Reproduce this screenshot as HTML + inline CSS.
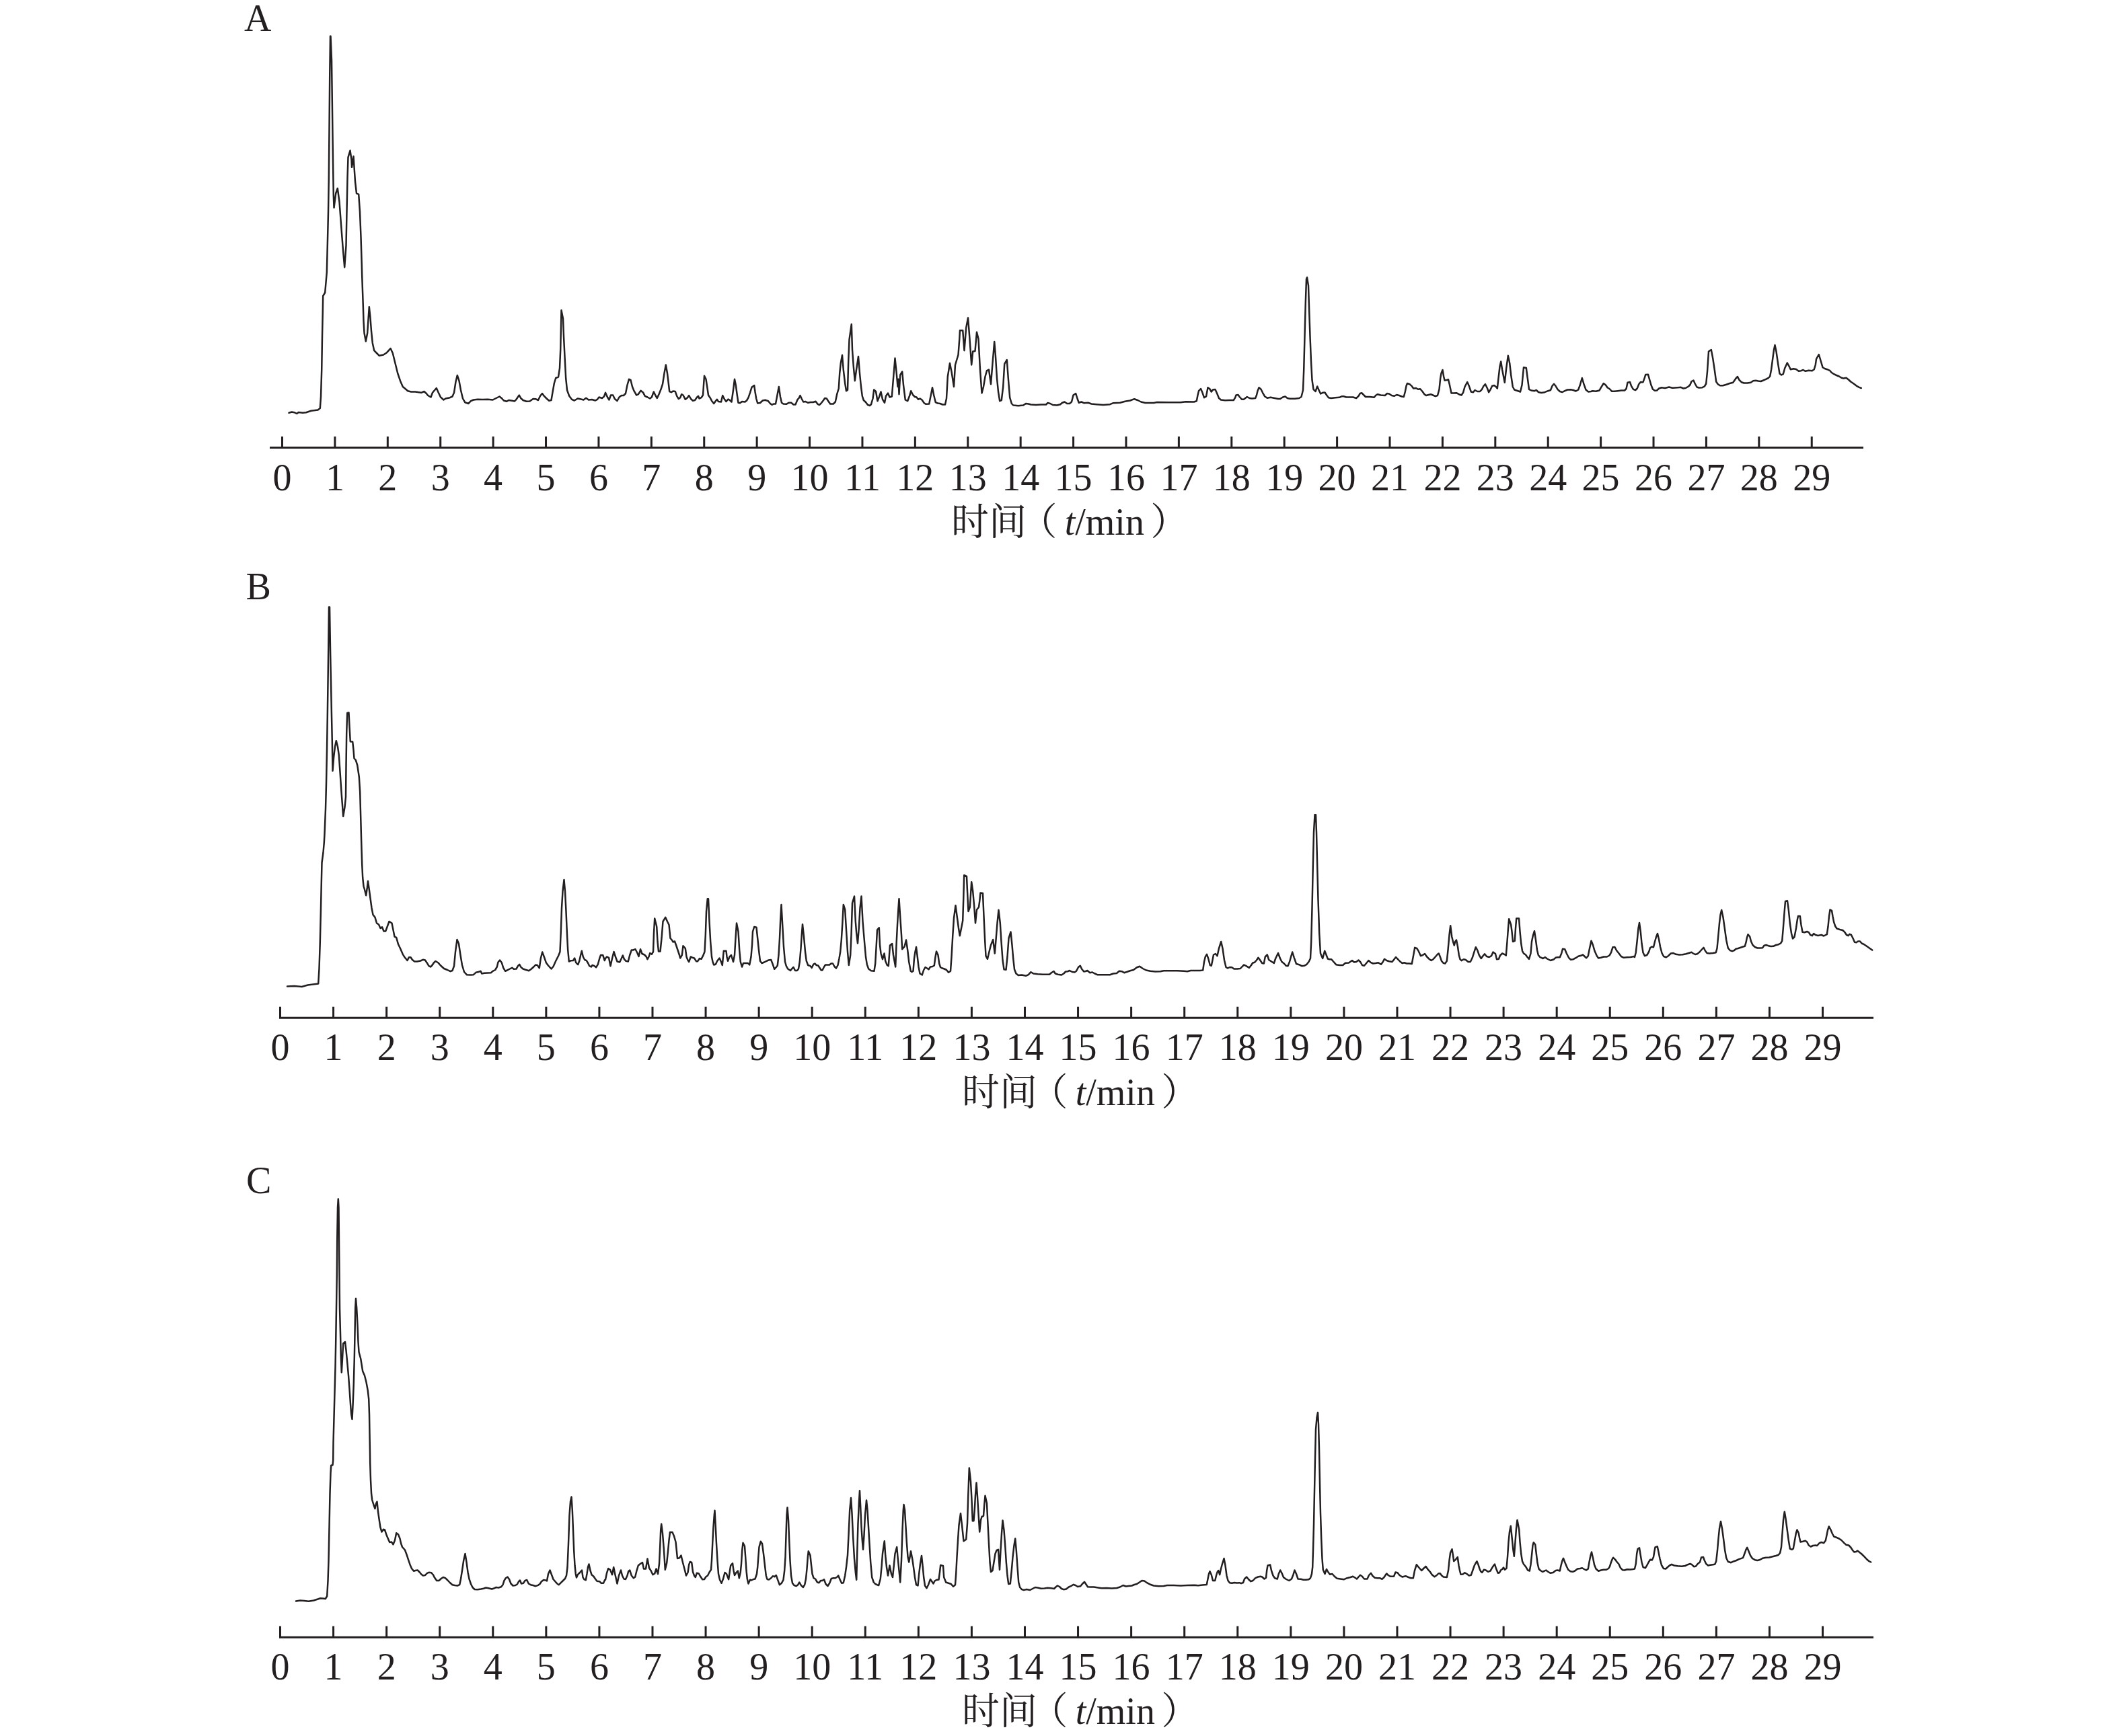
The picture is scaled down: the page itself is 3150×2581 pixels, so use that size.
<!DOCTYPE html>
<html lang="zh"><head><meta charset="utf-8"><title>chromatograms</title>
<style>
html,body{margin:0;padding:0;background:#fff;}
body{width:3150px;height:2581px;overflow:hidden;}
svg{display:block;}
text{font-family:"Liberation Serif","Noto Serif CJK SC",serif;font-size:56px;fill:#231f20;}
.ax{stroke:#231f20;stroke-width:3;fill:none;stroke-linecap:butt;}
.cv{stroke:#231f20;stroke-width:2.5;fill:none;stroke-linejoin:round;stroke-linecap:round;}
.t{text-anchor:middle;}
</style></head><body>
<svg width="3150" height="2581" viewBox="0 0 3150 2581">
<rect width="3150" height="2581" fill="#fff"/>
<g id="panelA">
<text x="363" y="46">A</text>
<path class="ax" d="M401 665.5H2770M419.5 665.5V649.0M497.9 665.5V649.0M576.31 665.5V649.0M654.72 665.5V649.0M733.12 665.5V649.0M811.52 665.5V649.0M889.93 665.5V649.0M968.34 665.5V649.0M1046.74 665.5V649.0M1125.14 665.5V649.0M1203.55 665.5V649.0M1281.95 665.5V649.0M1360.36 665.5V649.0M1438.76 665.5V649.0M1517.17 665.5V649.0M1595.58 665.5V649.0M1673.98 665.5V649.0M1752.38 665.5V649.0M1830.79 665.5V649.0M1909.19 665.5V649.0M1987.6 665.5V649.0M2066.01 665.5V649.0M2144.41 665.5V649.0M2222.82 665.5V649.0M2301.22 665.5V649.0M2379.62 665.5V649.0M2458.03 665.5V649.0M2536.43 665.5V649.0M2614.84 665.5V649.0M2693.24 665.5V649.0"/>
<text class="t" x="419.5" y="728.75">0</text><text class="t" x="497.9" y="728.75">1</text><text class="t" x="576.31" y="728.75">2</text><text class="t" x="654.72" y="728.75">3</text><text class="t" x="733.12" y="728.75">4</text><text class="t" x="811.52" y="728.75">5</text><text class="t" x="889.93" y="728.75">6</text><text class="t" x="968.34" y="728.75">7</text><text class="t" x="1046.74" y="728.75">8</text><text class="t" x="1125.14" y="728.75">9</text><text class="t" x="1203.55" y="728.75">10</text><text class="t" x="1281.95" y="728.75">11</text><text class="t" x="1360.36" y="728.75">12</text><text class="t" x="1438.76" y="728.75">13</text><text class="t" x="1517.17" y="728.75">14</text><text class="t" x="1595.58" y="728.75">15</text><text class="t" x="1673.98" y="728.75">16</text><text class="t" x="1752.38" y="728.75">17</text><text class="t" x="1830.79" y="728.75">18</text><text class="t" x="1909.19" y="728.75">19</text><text class="t" x="1987.6" y="728.75">20</text><text class="t" x="2066.01" y="728.75">21</text><text class="t" x="2144.41" y="728.75">22</text><text class="t" x="2222.82" y="728.75">23</text><text class="t" x="2301.22" y="728.75">24</text><text class="t" x="2379.62" y="728.75">25</text><text class="t" x="2458.03" y="728.75">26</text><text class="t" x="2536.43" y="728.75">27</text><text class="t" x="2614.84" y="728.75">28</text><text class="t" x="2693.24" y="728.75">29</text>
<text y="795.0"><tspan x="1413.9">时间</tspan><tspan x="1515.5">（</tspan><tspan x="1582.7" font-style="italic">t</tspan>/min<tspan x="1710.2">）</tspan></text>
<polyline class="cv" points="429.5,613.8 433.8,612.5 437.5,613.2 441.2,615.0 443.8,613.0 450.0,613.8 455.0,613.2 462.5,610.8 472.5,609.5 475.8,607.0 477.0,590.0 478.2,550.0 479.0,500.0 479.8,462.5 480.2,440.0 483.2,435.0 484.5,420.0 485.8,405.0 486.8,365.0 488.0,315.0 488.8,265.0 489.5,190.0 490.2,115.0 491.0,53.8 491.5,53.8 493.0,90.0 494.0,165.0 495.0,240.0 495.8,290.0 496.5,308.8 499.2,287.5 501.8,280.0 504.5,300.0 507.5,340.0 510.0,372.5 512.2,397.5 514.5,365.0 515.5,315.0 516.5,265.0 517.5,233.8 520.5,223.8 522.5,237.5 523.0,248.8 525.5,232.5 526.8,252.5 528.0,270.0 530.0,287.5 533.2,288.8 535.0,315.0 536.5,352.5 537.8,395.0 538.2,410.0 539.0,432.5 539.8,455.0 540.5,477.5 541.5,495.0 543.8,507.5 546.2,495.0 547.5,475.0 548.8,456.2 550.5,472.5 552.0,492.5 553.8,510.0 556.2,521.2 560.0,525.0 563.8,528.8 570.0,527.5 575.0,524.2 578.0,520.8 580.5,518.0 583.8,525.0 587.5,540.0 591.2,555.0 595.0,566.2 598.8,575.0 602.5,578.0 606.2,581.2 611.2,582.5 617.5,582.5 622.5,583.2 626.2,583.8 630.5,582.0 633.8,585.0 636.2,588.0 640.5,590.5 643.0,583.8 646.2,580.0 648.8,577.0 651.2,582.5 655.0,590.5 659.5,594.5 662.5,592.5 668.8,591.2 672.5,589.5 675.0,583.8 677.5,567.5 679.8,558.0 682.5,566.2 685.0,580.0 688.0,592.5 691.2,598.2 696.2,600.0 700.0,596.2 703.8,594.5 710.0,593.8 717.5,594.0 725.0,593.8 732.5,594.5 737.5,592.0 742.5,589.5 746.2,592.5 748.8,595.5 753.0,596.8 756.2,595.0 761.2,595.8 765.0,596.5 767.5,593.8 771.8,587.5 774.2,592.0 777.5,595.0 782.5,596.8 787.5,596.5 792.5,593.0 796.2,593.2 800.0,595.0 803.0,588.8 806.0,585.0 809.2,589.2 812.5,592.5 816.2,595.8 819.5,595.0 821.2,585.0 823.8,570.0 826.2,562.0 830.0,560.5 832.0,547.5 833.2,520.0 834.5,461.2 837.0,473.8 838.0,500.0 839.5,530.0 841.2,562.5 843.0,580.0 846.2,588.8 850.0,593.8 853.8,595.5 858.8,592.5 862.5,593.2 867.5,594.5 871.2,591.8 875.0,594.5 880.0,594.0 885.0,595.5 888.0,593.8 890.5,590.5 895.0,592.0 898.0,589.5 900.0,583.8 903.0,590.5 905.5,594.5 908.0,587.5 911.2,587.5 913.8,593.0 917.5,596.0 920.5,590.5 923.8,588.0 927.0,588.0 930.0,585.0 932.5,572.5 935.0,563.8 937.5,565.0 940.0,575.0 942.5,581.2 946.2,587.5 948.8,586.2 952.5,580.8 956.2,583.8 958.8,588.8 962.5,590.5 966.2,592.5 968.8,590.5 971.8,582.5 974.2,587.5 976.8,592.0 979.5,586.2 982.5,578.8 985.0,571.2 987.5,555.0 989.8,542.5 992.0,555.0 993.8,570.0 995.2,582.0 998.0,583.2 1000.5,581.5 1003.8,582.0 1006.2,588.8 1008.8,593.0 1011.2,591.2 1013.2,586.2 1015.5,587.5 1018.8,593.8 1022.0,591.2 1024.2,588.0 1027.0,593.0 1030.0,595.8 1033.0,595.0 1036.2,590.5 1038.0,588.8 1039.5,592.5 1042.5,591.2 1045.0,587.5 1046.0,572.5 1047.0,558.8 1049.5,563.8 1051.2,575.0 1053.0,587.5 1055.5,591.2 1058.2,596.2 1061.2,600.0 1063.8,596.2 1065.8,593.8 1068.0,597.0 1072.0,597.5 1074.2,588.0 1076.8,593.2 1079.5,597.0 1082.5,593.5 1085.0,595.0 1087.5,597.5 1090.0,580.0 1092.0,563.8 1093.8,572.5 1095.8,587.5 1097.5,598.8 1100.0,599.2 1103.0,597.0 1107.5,597.5 1110.0,595.5 1112.5,591.2 1115.0,583.8 1117.5,575.8 1121.2,573.0 1122.5,582.5 1124.2,592.5 1126.2,599.5 1130.0,599.0 1133.8,595.5 1137.5,594.8 1142.0,596.2 1145.0,600.0 1147.5,601.8 1150.0,600.5 1153.0,600.5 1155.0,590.0 1157.8,575.0 1160.0,590.0 1162.0,598.8 1164.5,600.5 1168.8,600.8 1172.5,598.8 1176.2,598.8 1179.5,601.5 1182.5,601.5 1185.5,594.2 1187.5,592.0 1189.5,588.0 1191.8,593.0 1194.2,597.5 1197.5,597.0 1201.2,598.8 1205.0,598.0 1208.8,598.0 1212.5,596.8 1215.5,600.8 1218.2,602.0 1221.2,598.8 1223.8,595.5 1226.2,592.0 1228.8,592.5 1231.2,596.2 1234.2,600.5 1238.8,600.5 1241.8,597.5 1244.2,586.2 1246.8,577.5 1248.2,555.0 1249.8,540.0 1252.0,528.0 1253.8,550.0 1256.2,570.0 1258.0,581.2 1260.0,580.0 1261.2,537.5 1262.5,505.0 1265.8,482.0 1267.0,520.0 1268.8,545.0 1270.8,566.2 1273.0,550.0 1276.0,530.0 1278.0,555.0 1280.0,575.0 1281.8,588.8 1283.8,595.0 1287.0,598.0 1290.0,602.0 1293.0,603.0 1295.0,601.2 1297.5,592.5 1299.2,579.5 1302.0,582.0 1304.5,596.2 1307.0,590.0 1309.5,582.5 1312.0,593.8 1315.0,598.8 1317.0,588.8 1320.0,584.5 1322.5,590.5 1325.8,589.5 1328.0,562.5 1330.5,532.5 1332.5,552.5 1334.5,575.0 1335.5,563.8 1336.5,586.2 1338.2,557.5 1341.2,552.5 1343.0,572.5 1345.8,594.5 1349.2,596.2 1352.0,588.8 1354.2,581.2 1357.0,587.0 1360.0,590.0 1362.5,590.5 1365.0,593.8 1367.5,592.5 1370.5,594.5 1373.8,599.2 1376.2,600.8 1381.2,600.5 1383.8,587.5 1386.0,576.2 1388.2,587.5 1390.8,598.2 1393.8,599.5 1397.5,600.0 1401.2,601.5 1405.0,601.5 1407.0,592.5 1408.8,560.0 1412.0,540.0 1414.5,552.5 1418.0,575.0 1420.0,542.5 1424.5,527.5 1426.2,505.0 1427.0,491.2 1431.2,491.2 1433.5,521.2 1436.2,487.5 1439.0,472.5 1441.2,500.0 1444.2,542.5 1446.2,522.5 1449.5,522.0 1452.0,493.8 1454.5,503.8 1457.0,550.0 1459.5,584.5 1462.0,575.0 1464.5,560.0 1467.0,551.2 1470.0,549.5 1473.0,571.2 1475.5,540.0 1478.2,508.0 1480.0,530.0 1482.0,562.5 1484.0,582.5 1486.2,596.2 1488.8,595.0 1491.2,575.0 1493.2,541.2 1496.8,535.0 1498.8,562.5 1501.2,591.2 1503.8,600.0 1506.2,602.5 1513.8,603.2 1521.2,602.5 1525.0,600.0 1528.8,600.5 1532.5,601.5 1540.0,602.0 1547.5,601.5 1555.0,601.5 1557.5,599.0 1561.2,600.0 1565.0,602.0 1571.2,602.5 1576.2,601.2 1578.8,599.0 1582.5,597.5 1586.2,600.0 1590.0,600.0 1593.0,597.5 1595.5,587.5 1599.2,585.0 1601.5,592.5 1603.8,598.8 1607.5,597.5 1611.2,599.2 1617.5,598.8 1622.5,600.5 1630.0,601.2 1640.0,602.0 1650.0,601.2 1655.0,599.2 1665.0,598.8 1672.5,596.8 1680.0,595.5 1686.2,593.2 1691.2,595.0 1696.2,597.5 1702.5,599.0 1715.0,599.0 1720.0,598.0 1737.5,598.2 1755.0,598.2 1762.5,597.2 1775.0,597.5 1778.8,596.2 1780.5,587.5 1782.0,581.2 1785.0,578.0 1787.5,583.8 1790.0,591.2 1793.0,589.5 1795.5,576.2 1798.2,578.0 1800.8,582.5 1803.2,579.2 1806.5,579.0 1809.2,585.0 1812.0,592.0 1815.0,594.5 1821.2,595.2 1827.5,595.0 1833.8,595.0 1836.2,591.2 1837.5,587.5 1840.5,587.0 1843.0,590.5 1846.2,593.8 1848.8,593.8 1851.2,592.0 1853.8,590.0 1857.5,592.0 1861.2,592.5 1866.2,592.0 1868.0,587.5 1869.5,581.2 1871.5,576.2 1874.5,578.8 1877.0,583.8 1880.0,589.2 1883.8,591.8 1888.8,590.8 1895.0,592.0 1900.0,593.0 1903.0,593.0 1907.0,590.5 1910.5,589.5 1913.8,592.0 1917.5,592.8 1925.0,592.8 1931.2,592.0 1934.5,590.0 1937.0,580.0 1938.2,550.0 1939.5,500.0 1940.8,450.0 1942.0,415.0 1943.0,412.5 1945.0,425.0 1946.2,462.5 1947.5,500.0 1949.0,537.5 1950.5,565.0 1952.5,578.8 1955.5,582.0 1958.2,574.5 1960.8,580.5 1963.2,585.5 1966.2,583.8 1969.5,583.5 1972.5,588.0 1975.0,591.2 1978.8,592.0 1985.0,591.2 1991.2,590.8 1995.0,589.2 1997.5,589.2 2001.2,590.5 2006.2,590.5 2011.2,590.5 2016.2,592.0 2019.5,588.8 2021.8,585.0 2024.2,584.2 2027.0,587.0 2030.0,590.0 2036.2,590.0 2042.5,590.8 2045.5,587.5 2048.0,586.2 2052.5,587.5 2058.8,588.0 2062.0,585.0 2065.0,585.5 2068.8,588.0 2072.5,588.8 2076.2,587.0 2080.0,588.0 2083.8,589.5 2086.8,590.0 2088.8,582.5 2090.5,573.8 2092.0,570.0 2095.5,571.2 2098.8,574.2 2101.2,577.5 2105.0,577.0 2108.0,578.8 2111.2,578.2 2114.5,582.0 2117.5,586.2 2120.0,588.0 2123.8,587.0 2127.0,586.2 2130.0,587.5 2133.8,589.2 2137.0,588.0 2139.5,578.8 2141.2,562.5 2142.5,555.0 2144.5,550.0 2146.2,560.0 2147.5,565.5 2150.8,565.0 2153.0,564.2 2155.0,572.5 2157.5,584.5 2161.2,584.5 2165.0,584.2 2168.8,586.2 2172.5,587.5 2175.0,583.8 2177.5,575.0 2181.2,568.0 2183.8,573.8 2186.8,582.5 2190.0,583.2 2192.5,580.0 2196.2,582.0 2200.0,582.0 2203.0,578.8 2205.5,573.8 2208.0,571.2 2210.8,577.0 2213.2,583.2 2215.8,578.8 2218.2,573.8 2221.2,573.0 2223.8,575.0 2225.8,577.5 2227.5,562.5 2229.5,545.0 2231.2,537.5 2233.2,550.0 2236.8,568.8 2239.2,547.5 2241.8,528.8 2244.2,540.0 2246.2,557.5 2248.8,575.0 2251.2,579.5 2255.0,580.8 2260.0,582.5 2262.5,572.5 2265.0,546.2 2268.8,547.0 2270.5,560.0 2273.0,578.8 2276.2,580.5 2281.2,581.2 2283.8,580.0 2287.0,583.0 2291.2,584.0 2296.2,583.2 2301.2,581.2 2305.0,580.0 2307.5,573.8 2310.0,570.8 2312.5,573.8 2315.5,578.8 2318.8,582.0 2322.5,583.0 2326.2,581.2 2330.0,579.5 2335.0,579.2 2338.8,580.0 2342.5,581.5 2346.2,579.5 2348.8,572.5 2351.8,562.0 2354.5,571.2 2357.5,579.5 2361.2,582.5 2365.0,582.0 2367.5,581.2 2372.5,581.8 2377.5,580.5 2380.0,576.2 2383.8,570.0 2387.0,572.5 2389.5,576.2 2392.5,578.0 2396.2,581.8 2400.0,581.8 2405.0,581.2 2410.0,580.5 2415.0,580.5 2417.5,578.0 2419.5,568.8 2423.0,568.0 2425.0,573.8 2428.0,578.8 2431.2,580.0 2433.8,577.5 2436.2,571.2 2438.8,568.0 2442.5,568.2 2445.0,561.2 2446.2,557.0 2450.0,556.8 2452.0,563.8 2454.5,572.5 2457.0,578.8 2460.0,580.8 2463.0,580.5 2466.2,577.5 2470.0,576.2 2475.0,577.0 2481.2,575.5 2486.2,576.8 2493.8,576.2 2498.8,575.8 2502.5,577.5 2506.2,576.8 2510.0,574.5 2512.5,572.0 2514.5,567.0 2517.5,565.5 2519.5,570.0 2522.5,575.5 2525.5,576.5 2530.5,576.2 2533.8,574.5 2536.2,570.5 2538.0,552.5 2540.0,522.5 2543.8,520.0 2546.2,532.5 2548.8,550.0 2551.2,567.5 2553.8,571.2 2557.0,573.2 2561.2,573.2 2566.2,571.8 2571.2,570.0 2576.2,568.8 2578.8,565.0 2580.5,562.5 2583.0,560.0 2585.5,565.0 2588.8,568.2 2592.5,569.5 2597.5,569.5 2602.5,568.8 2606.2,566.2 2610.0,565.8 2613.8,566.5 2617.5,567.0 2621.2,565.5 2625.0,563.8 2628.8,562.0 2631.2,559.5 2633.0,550.0 2635.0,535.0 2637.0,520.0 2638.5,513.0 2640.5,522.5 2643.0,540.0 2645.5,555.5 2648.2,557.5 2650.8,556.2 2653.2,547.5 2656.8,539.5 2659.2,543.8 2661.8,549.2 2666.2,548.2 2670.0,549.0 2673.8,551.8 2677.5,551.2 2680.5,550.0 2683.8,551.8 2688.8,550.8 2693.8,551.2 2696.8,549.2 2698.8,542.5 2700.0,533.8 2703.8,527.0 2706.2,535.0 2709.5,546.2 2712.5,548.0 2716.2,549.2 2720.0,550.8 2722.5,553.8 2726.2,556.2 2730.0,558.0 2733.8,559.5 2737.5,561.8 2740.5,562.5 2744.5,561.8 2748.0,564.5 2751.2,567.5 2755.0,570.0 2760.0,573.8 2763.8,575.8 2766.8,577.0"/>
</g>
<g id="panelB">
<text x="365.5" y="891">B</text>
<path class="ax" d="M415 1513.25H2785M416.5 1513.25V1496.75M495.57 1513.25V1496.75M574.64 1513.25V1496.75M653.71 1513.25V1496.75M732.78 1513.25V1496.75M811.85 1513.25V1496.75M890.92 1513.25V1496.75M969.99 1513.25V1496.75M1049.06 1513.25V1496.75M1128.13 1513.25V1496.75M1207.2 1513.25V1496.75M1286.27 1513.25V1496.75M1365.34 1513.25V1496.75M1444.41 1513.25V1496.75M1523.48 1513.25V1496.75M1602.55 1513.25V1496.75M1681.62 1513.25V1496.75M1760.69 1513.25V1496.75M1839.76 1513.25V1496.75M1918.83 1513.25V1496.75M1997.9 1513.25V1496.75M2076.97 1513.25V1496.75M2156.04 1513.25V1496.75M2235.11 1513.25V1496.75M2314.18 1513.25V1496.75M2393.25 1513.25V1496.75M2472.32 1513.25V1496.75M2551.39 1513.25V1496.75M2630.46 1513.25V1496.75M2709.53 1513.25V1496.75"/>
<text class="t" x="416.5" y="1576.0">0</text><text class="t" x="495.57" y="1576.0">1</text><text class="t" x="574.64" y="1576.0">2</text><text class="t" x="653.71" y="1576.0">3</text><text class="t" x="732.78" y="1576.0">4</text><text class="t" x="811.85" y="1576.0">5</text><text class="t" x="890.92" y="1576.0">6</text><text class="t" x="969.99" y="1576.0">7</text><text class="t" x="1049.06" y="1576.0">8</text><text class="t" x="1128.13" y="1576.0">9</text><text class="t" x="1207.2" y="1576.0">10</text><text class="t" x="1286.27" y="1576.0">11</text><text class="t" x="1365.34" y="1576.0">12</text><text class="t" x="1444.41" y="1576.0">13</text><text class="t" x="1523.48" y="1576.0">14</text><text class="t" x="1602.55" y="1576.0">15</text><text class="t" x="1681.62" y="1576.0">16</text><text class="t" x="1760.69" y="1576.0">17</text><text class="t" x="1839.76" y="1576.0">18</text><text class="t" x="1918.83" y="1576.0">19</text><text class="t" x="1997.9" y="1576.0">20</text><text class="t" x="2076.97" y="1576.0">21</text><text class="t" x="2156.04" y="1576.0">22</text><text class="t" x="2235.11" y="1576.0">23</text><text class="t" x="2314.18" y="1576.0">24</text><text class="t" x="2393.25" y="1576.0">25</text><text class="t" x="2472.32" y="1576.0">26</text><text class="t" x="2551.39" y="1576.0">27</text><text class="t" x="2630.46" y="1576.0">28</text><text class="t" x="2709.53" y="1576.0">29</text>
<text y="1643.15"><tspan x="1429.9">时间</tspan><tspan x="1531.5">（</tspan><tspan x="1598.7" font-style="italic">t</tspan>/min<tspan x="1726.2">）</tspan></text>
<polyline class="cv" points="427.0,1466.5 437.5,1466.0 448.8,1467.0 457.5,1464.5 467.5,1463.2 473.2,1462.5 474.5,1440.0 475.8,1400.0 477.0,1350.0 477.8,1312.5 478.5,1282.5 480.5,1267.5 481.8,1252.5 482.5,1240.0 484.0,1202.5 485.0,1165.0 486.0,1115.0 486.8,1065.0 487.5,1015.0 488.2,965.0 489.0,902.5 490.0,902.5 491.0,965.0 492.0,1015.0 493.0,1065.0 493.8,1102.5 494.5,1146.2 496.2,1125.0 498.0,1110.0 499.8,1101.2 502.0,1110.0 503.8,1122.5 505.5,1147.5 507.5,1177.5 509.0,1197.5 510.2,1213.8 512.5,1200.0 514.0,1185.0 514.5,1140.0 515.2,1090.0 516.2,1060.0 518.5,1059.5 519.5,1080.0 520.8,1102.5 524.2,1103.0 525.5,1115.0 526.5,1127.5 528.8,1130.0 531.2,1137.5 533.8,1155.0 535.2,1177.5 536.2,1215.0 537.0,1245.0 537.5,1262.5 538.2,1285.0 539.2,1305.0 540.5,1317.5 542.0,1322.5 544.2,1331.2 545.8,1320.0 547.0,1310.0 548.8,1322.5 550.8,1337.5 552.5,1350.0 554.5,1360.0 557.5,1363.8 560.0,1372.5 563.0,1374.5 565.5,1380.0 568.0,1378.2 570.5,1384.5 573.2,1384.5 575.8,1377.5 578.5,1370.0 582.5,1372.5 584.5,1382.5 586.5,1392.5 589.2,1393.8 592.0,1403.8 595.0,1410.0 598.8,1418.8 602.0,1423.8 605.5,1428.0 608.0,1423.2 610.5,1423.2 613.0,1427.0 616.2,1429.5 620.0,1429.5 625.0,1428.5 628.8,1426.8 632.0,1427.5 634.5,1431.2 637.5,1436.2 640.0,1437.5 642.5,1435.0 645.0,1431.2 647.5,1429.0 651.2,1431.2 655.0,1435.5 660.0,1440.0 665.0,1442.0 669.5,1444.2 672.5,1443.0 675.0,1436.2 677.0,1415.0 679.5,1397.0 682.0,1403.0 684.5,1420.0 687.0,1435.0 690.0,1445.0 693.8,1449.2 698.8,1449.5 703.8,1449.2 707.5,1445.8 711.2,1445.0 714.5,1443.8 716.2,1447.5 720.0,1446.8 725.0,1446.5 730.0,1446.2 732.5,1443.8 736.2,1442.0 738.8,1437.5 740.5,1430.5 743.0,1427.5 745.8,1431.2 748.2,1438.8 751.2,1443.8 755.0,1442.0 758.8,1440.0 761.2,1438.8 763.8,1440.8 767.5,1440.5 770.0,1436.2 772.2,1433.8 774.5,1438.0 777.5,1440.5 781.2,1441.8 786.2,1443.2 790.0,1440.5 793.8,1437.0 796.2,1434.5 798.8,1435.0 801.8,1439.2 803.8,1425.0 806.2,1415.5 808.8,1422.5 811.8,1431.2 815.0,1435.5 819.5,1440.5 822.5,1437.0 826.2,1428.8 830.0,1421.2 832.5,1415.0 833.8,1385.0 835.0,1350.0 836.5,1325.0 838.5,1308.0 840.0,1325.0 841.5,1355.0 843.0,1390.0 844.2,1412.5 845.8,1429.5 848.8,1428.2 852.0,1428.0 854.2,1424.5 856.2,1431.2 859.2,1434.2 861.2,1428.8 863.2,1420.0 864.8,1413.8 866.8,1422.5 869.2,1427.0 871.8,1428.2 874.2,1432.0 876.2,1436.2 878.8,1437.5 880.5,1435.0 883.8,1436.2 886.2,1438.2 888.8,1433.8 891.2,1425.0 893.0,1420.0 896.2,1420.0 898.8,1428.0 900.0,1425.0 902.0,1422.5 905.0,1423.8 907.5,1436.2 910.0,1425.0 912.5,1415.0 915.0,1422.5 917.5,1429.5 921.2,1430.5 923.8,1425.0 925.8,1420.5 928.0,1426.2 930.5,1428.8 933.8,1429.5 936.2,1420.0 938.8,1412.5 941.2,1412.5 944.5,1411.2 947.5,1417.0 949.5,1422.0 952.0,1411.2 954.5,1418.0 958.0,1419.5 960.5,1422.0 962.5,1426.2 964.5,1422.5 966.2,1417.0 968.8,1418.8 971.0,1415.0 972.0,1387.5 973.2,1365.5 976.2,1377.5 977.5,1400.0 979.0,1414.5 981.5,1414.5 983.5,1395.0 985.5,1370.0 989.2,1363.8 992.0,1370.0 994.5,1375.0 996.5,1395.0 998.8,1397.5 1000.5,1400.5 1003.0,1399.5 1005.0,1405.0 1007.5,1412.5 1010.0,1420.0 1011.2,1424.5 1013.8,1420.0 1015.5,1406.2 1018.8,1410.0 1020.5,1422.5 1022.5,1427.5 1024.2,1430.0 1026.8,1422.5 1029.5,1423.8 1032.0,1424.5 1035.0,1429.2 1037.0,1429.2 1040.0,1425.0 1042.5,1425.8 1045.0,1421.2 1047.5,1415.0 1048.8,1390.0 1050.0,1355.0 1051.8,1336.2 1053.0,1336.2 1054.5,1370.0 1056.2,1400.0 1058.0,1422.5 1059.5,1430.0 1061.2,1434.5 1063.8,1433.8 1066.2,1428.8 1069.5,1424.5 1072.0,1430.0 1073.8,1435.0 1075.8,1413.8 1079.5,1413.8 1080.5,1422.5 1082.0,1428.8 1084.5,1422.5 1087.0,1420.0 1090.0,1430.0 1092.0,1420.0 1093.2,1400.0 1095.0,1372.5 1097.5,1385.0 1099.2,1412.5 1100.8,1430.0 1103.0,1437.5 1105.0,1432.0 1108.8,1432.0 1111.8,1432.0 1114.2,1434.5 1116.5,1422.5 1118.0,1405.0 1119.0,1385.0 1121.2,1378.0 1124.5,1378.8 1126.2,1395.0 1128.0,1412.5 1130.0,1428.8 1132.5,1432.0 1136.2,1430.5 1139.5,1428.8 1142.5,1427.5 1146.2,1427.0 1148.8,1433.8 1151.2,1440.8 1153.8,1438.0 1155.8,1435.5 1157.5,1420.0 1159.0,1395.0 1160.2,1367.5 1161.5,1345.0 1163.2,1375.0 1165.0,1407.5 1167.0,1430.0 1168.8,1436.2 1171.2,1440.5 1175.0,1443.0 1177.5,1440.0 1179.5,1438.0 1182.0,1443.0 1185.0,1443.0 1187.0,1440.5 1188.8,1430.0 1190.5,1410.0 1191.8,1390.0 1193.0,1374.2 1195.0,1392.5 1197.0,1415.0 1198.8,1428.8 1201.2,1435.0 1204.5,1436.2 1206.8,1438.8 1209.2,1433.8 1211.2,1432.5 1213.8,1435.0 1216.2,1435.5 1218.8,1439.5 1220.8,1442.5 1222.5,1442.5 1225.0,1437.5 1227.0,1434.5 1230.0,1434.5 1233.0,1434.5 1235.5,1432.5 1238.0,1432.5 1240.5,1437.0 1243.0,1439.5 1245.5,1435.0 1247.5,1425.0 1249.2,1415.0 1250.8,1397.5 1252.5,1370.0 1253.8,1345.0 1256.2,1352.5 1258.0,1382.5 1260.0,1415.0 1261.8,1435.0 1264.2,1420.0 1265.5,1390.0 1267.0,1342.5 1270.0,1332.5 1271.8,1370.0 1273.2,1387.5 1275.0,1402.5 1276.8,1380.0 1278.5,1350.0 1280.5,1332.5 1282.5,1370.0 1285.0,1400.0 1287.0,1422.5 1288.8,1433.8 1291.2,1440.5 1295.0,1443.2 1299.5,1443.8 1301.2,1432.5 1302.5,1410.0 1304.0,1382.5 1306.8,1379.2 1308.0,1405.0 1309.5,1417.5 1312.0,1426.2 1314.5,1417.5 1316.2,1428.8 1318.8,1435.0 1320.8,1436.2 1323.0,1405.5 1326.2,1403.0 1328.0,1420.0 1331.2,1437.5 1332.5,1405.0 1334.0,1375.0 1335.5,1350.0 1336.5,1336.2 1338.0,1360.0 1340.0,1390.0 1341.2,1411.2 1344.5,1407.5 1347.0,1397.5 1349.2,1412.5 1351.2,1430.0 1353.8,1443.8 1355.5,1445.0 1357.5,1443.8 1359.0,1425.0 1360.5,1415.0 1362.0,1408.0 1363.8,1422.5 1365.5,1437.5 1367.5,1447.5 1370.8,1449.5 1373.0,1442.5 1375.5,1438.0 1378.0,1439.5 1380.5,1441.2 1383.0,1437.5 1386.2,1437.0 1388.8,1435.5 1390.5,1422.5 1392.0,1414.5 1394.5,1420.0 1396.2,1432.5 1398.0,1438.0 1400.0,1439.2 1403.8,1440.5 1407.0,1442.0 1410.0,1445.8 1413.0,1443.8 1414.5,1422.5 1416.2,1392.5 1418.0,1365.0 1420.5,1346.2 1423.0,1365.0 1425.0,1380.0 1426.8,1391.2 1428.8,1381.2 1431.2,1368.8 1432.2,1337.5 1433.2,1301.2 1437.0,1303.0 1438.0,1325.0 1439.5,1355.0 1441.8,1348.8 1443.0,1330.0 1444.2,1311.2 1446.2,1325.0 1448.2,1347.5 1450.0,1372.5 1452.0,1352.5 1455.0,1348.8 1456.2,1340.0 1457.5,1327.5 1461.0,1328.0 1462.5,1362.5 1464.0,1395.0 1465.5,1421.2 1468.0,1425.8 1470.5,1415.0 1473.0,1405.0 1476.2,1397.0 1478.8,1417.5 1480.5,1397.5 1482.5,1372.5 1484.5,1353.0 1486.8,1372.5 1488.5,1400.0 1490.5,1427.5 1492.5,1441.2 1495.5,1441.8 1497.5,1422.5 1499.5,1395.0 1502.5,1385.5 1504.5,1405.0 1506.2,1425.0 1508.0,1441.2 1510.5,1447.5 1513.8,1450.0 1518.8,1449.5 1525.0,1450.8 1528.8,1449.2 1532.5,1445.2 1536.2,1447.5 1542.5,1448.2 1550.0,1448.8 1560.0,1448.8 1563.0,1446.2 1566.5,1444.0 1568.8,1447.5 1572.5,1448.8 1578.0,1449.5 1581.2,1447.5 1584.2,1444.5 1587.5,1444.2 1590.0,1443.0 1593.8,1445.0 1597.5,1445.5 1600.0,1443.8 1603.0,1438.0 1605.8,1435.8 1608.0,1440.5 1611.2,1444.5 1613.8,1444.0 1616.5,1443.0 1620.0,1446.2 1623.8,1445.5 1627.5,1447.5 1631.2,1449.2 1640.0,1449.2 1650.0,1449.2 1655.0,1447.5 1660.0,1447.0 1663.8,1443.8 1667.5,1444.2 1671.2,1446.2 1675.0,1445.0 1680.0,1443.2 1685.0,1442.0 1690.0,1438.2 1694.2,1436.8 1698.8,1440.0 1703.8,1442.5 1710.0,1443.8 1717.5,1444.5 1725.0,1444.2 1730.0,1443.2 1740.0,1443.2 1750.0,1443.2 1760.0,1443.8 1765.0,1444.2 1770.0,1443.0 1777.5,1443.0 1783.8,1443.0 1788.2,1442.5 1790.0,1430.0 1791.8,1422.5 1794.0,1418.8 1796.2,1425.0 1798.8,1435.0 1800.8,1435.8 1802.5,1427.5 1804.0,1419.5 1807.0,1418.0 1809.5,1421.2 1812.0,1410.0 1815.2,1400.0 1817.5,1410.0 1820.0,1427.5 1822.5,1438.0 1825.0,1439.5 1828.0,1438.0 1831.2,1438.2 1834.5,1440.5 1838.8,1440.5 1843.8,1440.0 1846.2,1437.5 1849.2,1434.5 1852.5,1436.2 1857.0,1438.8 1860.0,1435.0 1862.0,1431.8 1865.0,1430.8 1868.0,1427.5 1870.5,1423.8 1873.2,1427.5 1876.2,1432.0 1878.8,1432.5 1880.8,1422.5 1883.8,1419.5 1886.2,1427.0 1890.0,1429.5 1893.8,1432.0 1896.2,1425.0 1900.0,1417.0 1903.0,1425.0 1905.5,1430.0 1908.8,1432.5 1911.8,1435.8 1914.5,1436.2 1917.0,1430.0 1919.5,1421.2 1921.2,1415.5 1923.8,1423.8 1927.0,1433.0 1931.2,1434.2 1935.0,1436.2 1938.8,1435.8 1942.5,1433.8 1945.5,1430.0 1948.0,1425.0 1949.2,1400.0 1950.5,1350.0 1951.8,1287.5 1953.0,1237.5 1954.5,1211.2 1956.0,1211.2 1957.0,1237.5 1958.2,1287.5 1959.5,1337.5 1961.2,1387.5 1963.0,1417.5 1966.2,1425.0 1969.2,1413.8 1971.2,1418.8 1973.8,1425.5 1976.2,1426.2 1979.2,1426.2 1982.5,1430.0 1986.2,1434.2 1991.2,1435.0 1996.2,1435.0 2000.0,1431.8 2005.0,1431.5 2010.0,1428.0 2013.0,1430.5 2016.2,1430.0 2019.5,1427.5 2022.5,1430.5 2025.0,1435.0 2028.0,1435.8 2031.2,1432.0 2034.5,1428.0 2037.5,1430.8 2041.2,1432.5 2045.0,1432.0 2048.8,1431.2 2053.0,1433.8 2055.5,1430.5 2058.0,1425.8 2061.2,1428.0 2065.0,1429.2 2069.5,1430.0 2072.5,1426.2 2075.0,1423.0 2078.0,1426.2 2081.2,1429.5 2084.5,1432.0 2087.5,1431.2 2091.2,1432.5 2095.0,1432.5 2098.8,1433.0 2101.2,1420.0 2103.2,1408.8 2106.2,1410.0 2108.8,1414.2 2112.0,1421.2 2115.0,1420.0 2118.0,1418.0 2121.2,1422.5 2124.5,1425.8 2127.5,1428.0 2130.5,1426.2 2133.8,1422.5 2137.0,1418.8 2138.8,1417.5 2140.8,1422.5 2143.0,1428.8 2145.5,1431.8 2148.2,1432.5 2150.8,1428.8 2152.5,1412.5 2154.5,1390.0 2156.2,1376.2 2158.2,1392.5 2160.0,1400.0 2161.8,1405.5 2163.2,1400.0 2165.0,1397.5 2167.0,1407.5 2168.8,1420.0 2170.5,1426.2 2172.5,1428.2 2175.8,1426.2 2178.8,1427.0 2182.5,1430.0 2185.8,1430.0 2188.8,1423.8 2191.2,1416.2 2193.8,1408.2 2196.2,1412.5 2198.8,1420.0 2201.8,1425.0 2204.5,1421.2 2207.0,1418.2 2210.0,1422.0 2213.8,1423.0 2217.0,1421.2 2219.5,1415.5 2223.0,1418.0 2225.0,1426.2 2228.0,1425.8 2230.0,1420.5 2233.2,1417.5 2236.2,1418.8 2238.8,1420.5 2240.5,1400.0 2242.0,1380.0 2243.2,1366.2 2246.2,1375.0 2247.5,1385.0 2249.0,1400.0 2251.8,1398.8 2253.0,1380.0 2254.2,1365.5 2258.0,1365.5 2259.5,1385.0 2261.2,1402.5 2263.0,1413.8 2265.0,1417.5 2268.0,1419.5 2270.5,1423.0 2273.0,1425.8 2275.5,1417.5 2277.0,1400.0 2278.8,1391.2 2281.0,1384.2 2283.0,1397.5 2285.0,1412.5 2286.8,1420.0 2289.5,1423.2 2293.8,1425.0 2297.0,1423.2 2300.0,1425.5 2305.0,1428.0 2310.0,1426.2 2312.5,1423.8 2315.5,1423.2 2318.8,1423.2 2321.2,1417.5 2323.0,1410.8 2326.2,1411.2 2328.8,1417.5 2332.0,1423.8 2335.0,1426.8 2338.8,1426.2 2342.5,1424.2 2346.2,1421.8 2350.0,1420.8 2353.0,1419.5 2356.2,1422.5 2358.2,1424.2 2360.8,1421.2 2363.0,1410.0 2365.5,1398.8 2368.0,1405.0 2370.5,1413.8 2373.8,1421.2 2376.2,1424.5 2380.0,1423.8 2383.8,1422.5 2388.8,1422.5 2392.5,1420.5 2395.0,1416.2 2397.5,1408.2 2400.5,1408.0 2403.0,1413.0 2406.2,1417.0 2410.0,1422.0 2413.8,1423.8 2418.8,1423.2 2423.8,1423.0 2428.8,1422.0 2430.0,1423.0 2431.8,1416.2 2433.8,1397.5 2435.5,1380.0 2437.0,1372.0 2438.8,1385.0 2440.5,1402.5 2442.5,1416.2 2445.0,1421.2 2448.2,1420.0 2451.2,1415.0 2453.0,1409.2 2455.5,1407.5 2458.0,1408.2 2460.0,1400.0 2462.0,1393.0 2464.0,1388.0 2466.0,1396.2 2468.0,1407.5 2470.5,1417.0 2473.2,1422.0 2476.8,1423.2 2480.0,1421.2 2483.8,1417.5 2487.5,1417.0 2491.2,1418.8 2496.2,1419.5 2501.2,1419.2 2506.2,1418.2 2511.2,1416.8 2514.5,1415.8 2517.0,1417.5 2520.0,1419.0 2523.0,1418.2 2526.2,1415.8 2529.5,1412.0 2532.5,1408.8 2535.0,1413.8 2537.5,1417.0 2541.2,1417.5 2546.2,1417.0 2550.8,1416.2 2552.5,1410.0 2554.2,1392.5 2556.0,1372.5 2557.5,1360.0 2559.2,1353.0 2561.5,1363.8 2563.8,1380.0 2566.2,1397.5 2568.8,1409.5 2571.8,1413.0 2575.0,1414.2 2578.0,1413.0 2580.5,1410.8 2583.8,1410.0 2587.5,1408.8 2591.2,1407.5 2593.8,1406.8 2595.5,1401.2 2597.0,1393.8 2598.5,1389.2 2601.2,1392.5 2603.0,1399.5 2605.5,1405.0 2608.8,1408.0 2612.5,1409.5 2616.2,1409.5 2620.0,1409.2 2622.5,1405.8 2625.5,1405.0 2628.8,1406.2 2632.5,1407.0 2636.2,1406.8 2640.0,1405.0 2643.8,1404.2 2647.0,1402.5 2649.2,1398.8 2650.8,1380.0 2652.5,1357.5 2654.0,1340.0 2657.0,1339.2 2658.8,1352.5 2660.8,1372.5 2663.0,1387.5 2665.0,1395.5 2667.5,1393.0 2670.0,1380.0 2671.8,1367.5 2673.0,1362.0 2675.8,1362.0 2677.5,1375.0 2679.5,1385.8 2682.5,1386.2 2686.2,1385.0 2688.8,1386.2 2691.2,1390.0 2693.8,1391.2 2696.2,1388.0 2698.8,1390.0 2702.5,1391.0 2707.5,1390.0 2711.2,1391.5 2715.8,1389.2 2717.5,1377.5 2719.0,1362.5 2720.5,1352.5 2723.0,1353.8 2724.5,1362.5 2726.2,1371.2 2728.2,1377.0 2730.5,1380.5 2735.0,1382.0 2739.2,1383.0 2742.5,1386.2 2745.0,1390.0 2747.5,1391.2 2749.5,1388.8 2752.0,1390.0 2754.5,1395.0 2757.0,1400.8 2759.5,1401.2 2762.0,1399.5 2765.0,1399.5 2767.5,1402.5 2771.2,1404.2 2775.0,1406.8 2778.8,1409.5 2783.2,1412.5"/>
</g>
<g id="panelC">
<text x="366" y="1774">C</text>
<path class="ax" d="M415 2434.25H2785M416.5 2434.25V2417.75M495.57 2434.25V2417.75M574.64 2434.25V2417.75M653.71 2434.25V2417.75M732.78 2434.25V2417.75M811.85 2434.25V2417.75M890.92 2434.25V2417.75M969.99 2434.25V2417.75M1049.06 2434.25V2417.75M1128.13 2434.25V2417.75M1207.2 2434.25V2417.75M1286.27 2434.25V2417.75M1365.34 2434.25V2417.75M1444.41 2434.25V2417.75M1523.48 2434.25V2417.75M1602.55 2434.25V2417.75M1681.62 2434.25V2417.75M1760.69 2434.25V2417.75M1839.76 2434.25V2417.75M1918.83 2434.25V2417.75M1997.9 2434.25V2417.75M2076.97 2434.25V2417.75M2156.04 2434.25V2417.75M2235.11 2434.25V2417.75M2314.18 2434.25V2417.75M2393.25 2434.25V2417.75M2472.32 2434.25V2417.75M2551.39 2434.25V2417.75M2630.46 2434.25V2417.75M2709.53 2434.25V2417.75"/>
<text class="t" x="416.5" y="2496.9">0</text><text class="t" x="495.57" y="2496.9">1</text><text class="t" x="574.64" y="2496.9">2</text><text class="t" x="653.71" y="2496.9">3</text><text class="t" x="732.78" y="2496.9">4</text><text class="t" x="811.85" y="2496.9">5</text><text class="t" x="890.92" y="2496.9">6</text><text class="t" x="969.99" y="2496.9">7</text><text class="t" x="1049.06" y="2496.9">8</text><text class="t" x="1128.13" y="2496.9">9</text><text class="t" x="1207.2" y="2496.9">10</text><text class="t" x="1286.27" y="2496.9">11</text><text class="t" x="1365.34" y="2496.9">12</text><text class="t" x="1444.41" y="2496.9">13</text><text class="t" x="1523.48" y="2496.9">14</text><text class="t" x="1602.55" y="2496.9">15</text><text class="t" x="1681.62" y="2496.9">16</text><text class="t" x="1760.69" y="2496.9">17</text><text class="t" x="1839.76" y="2496.9">18</text><text class="t" x="1918.83" y="2496.9">19</text><text class="t" x="1997.9" y="2496.9">20</text><text class="t" x="2076.97" y="2496.9">21</text><text class="t" x="2156.04" y="2496.9">22</text><text class="t" x="2235.11" y="2496.9">23</text><text class="t" x="2314.18" y="2496.9">24</text><text class="t" x="2393.25" y="2496.9">25</text><text class="t" x="2472.32" y="2496.9">26</text><text class="t" x="2551.39" y="2496.9">27</text><text class="t" x="2630.46" y="2496.9">28</text><text class="t" x="2709.53" y="2496.9">29</text>
<text y="2563.25"><tspan x="1429.9">时间</tspan><tspan x="1531.5">（</tspan><tspan x="1598.7" font-style="italic">t</tspan>/min<tspan x="1726.2">）</tspan></text>
<polyline class="cv" points="440.0,2380.5 446.2,2379.5 452.5,2380.0 458.8,2380.8 466.2,2379.5 472.5,2377.5 476.2,2376.2 480.0,2376.5 483.8,2377.0 486.2,2373.0 487.5,2350.0 488.5,2320.0 489.5,2270.0 490.5,2220.0 491.5,2190.0 492.2,2178.8 494.5,2178.2 495.2,2171.2 495.5,2145.0 496.5,2107.5 497.5,2070.0 498.5,2032.5 499.2,1995.0 500.0,1945.0 500.8,1895.0 501.2,1845.0 502.0,1795.0 502.8,1782.5 503.5,1795.0 504.0,1845.0 504.5,1895.0 505.0,1945.0 506.0,1982.5 506.8,2015.0 507.8,2040.5 509.0,2020.0 510.2,1997.5 513.0,1995.0 514.5,2007.5 516.2,2025.0 518.0,2045.0 519.5,2065.0 521.0,2087.5 522.2,2102.5 523.5,2110.0 524.5,2090.0 525.8,2057.5 526.8,2020.0 527.5,1982.5 528.2,1945.0 529.0,1930.8 530.2,1945.0 531.5,1970.0 532.5,1995.0 533.5,2010.0 536.2,2020.0 537.8,2030.0 539.2,2038.8 542.0,2045.0 544.5,2055.0 546.8,2067.5 548.2,2080.0 549.0,2102.5 549.5,2132.5 550.0,2160.0 550.2,2175.0 551.0,2200.0 552.0,2220.0 553.2,2230.0 555.5,2237.5 557.5,2243.0 559.0,2235.5 560.5,2232.5 562.0,2247.5 563.8,2260.0 565.5,2271.2 567.5,2277.5 570.0,2273.8 572.0,2274.5 574.2,2281.2 576.8,2287.5 579.2,2293.0 582.0,2292.5 584.5,2296.2 587.0,2290.0 589.2,2279.2 592.0,2281.2 594.5,2287.5 596.2,2295.0 598.0,2300.0 602.0,2304.5 604.5,2311.2 607.0,2318.8 609.5,2326.2 612.0,2332.0 615.0,2335.8 617.5,2335.0 620.8,2334.5 623.8,2337.5 626.2,2340.5 628.8,2342.5 632.0,2342.0 635.0,2338.8 637.5,2337.8 641.2,2338.2 643.8,2341.2 646.2,2345.8 649.2,2350.0 652.5,2350.0 655.8,2347.0 658.8,2345.0 662.0,2346.2 665.5,2349.5 668.8,2353.0 672.5,2356.2 676.2,2357.0 680.0,2357.5 683.2,2356.2 685.0,2347.5 687.0,2335.0 689.2,2320.0 691.5,2310.0 693.5,2322.5 695.5,2337.5 697.5,2347.5 700.0,2355.0 702.5,2360.0 705.5,2363.0 710.0,2363.2 715.0,2362.5 718.8,2361.8 722.5,2360.5 726.2,2361.2 731.2,2362.5 735.0,2361.2 737.5,2360.0 741.2,2360.5 745.0,2359.2 747.5,2356.2 749.5,2350.0 751.8,2346.2 754.5,2344.5 757.0,2348.0 759.5,2354.5 762.5,2357.5 766.2,2357.0 768.8,2355.5 771.2,2351.2 773.0,2349.5 775.0,2354.5 778.0,2353.8 780.5,2350.0 783.2,2349.0 785.8,2354.5 788.8,2356.2 792.5,2357.0 796.2,2358.2 800.0,2356.8 802.5,2355.0 805.0,2351.2 808.0,2349.0 811.2,2349.5 813.0,2350.5 815.0,2340.0 817.5,2334.5 820.0,2341.2 822.5,2348.0 825.8,2351.8 828.8,2355.0 830.8,2356.2 833.8,2353.2 837.0,2350.0 840.0,2347.0 842.0,2342.5 843.5,2330.0 845.0,2295.0 846.5,2252.5 848.0,2232.5 849.5,2225.5 850.8,2245.0 852.0,2275.0 853.2,2305.0 854.5,2327.5 855.8,2340.0 857.0,2345.5 858.8,2341.2 862.0,2338.0 865.0,2334.5 866.5,2345.0 868.2,2348.0 870.8,2349.2 872.5,2340.0 874.0,2330.0 875.5,2325.5 877.5,2335.0 879.5,2341.2 882.5,2343.8 885.0,2347.5 887.5,2350.8 891.2,2351.2 893.8,2353.8 897.0,2353.8 899.2,2348.8 900.0,2348.8 902.0,2338.8 904.2,2332.0 907.0,2333.8 910.0,2341.2 912.2,2330.0 914.5,2341.2 917.5,2354.5 920.0,2342.5 923.0,2334.5 925.0,2342.5 927.5,2347.5 930.0,2348.0 932.5,2342.5 934.2,2336.2 936.2,2334.5 938.8,2342.5 941.8,2346.2 944.2,2344.5 946.2,2336.2 948.8,2327.5 951.2,2325.5 955.0,2323.0 957.0,2332.5 960.0,2332.5 962.5,2317.5 965.0,2331.2 967.5,2335.0 970.5,2341.2 973.2,2339.5 975.5,2332.5 978.0,2340.0 980.0,2325.0 981.2,2300.0 982.2,2275.0 983.2,2265.8 985.0,2280.0 986.8,2302.5 988.8,2333.8 991.2,2323.8 993.0,2306.2 994.5,2290.0 996.0,2278.0 999.5,2278.0 1002.0,2283.8 1004.5,2292.5 1005.8,2305.0 1007.0,2317.0 1010.0,2316.2 1012.5,2312.5 1015.0,2323.0 1017.5,2332.5 1020.0,2342.5 1022.5,2338.0 1024.2,2326.2 1025.8,2322.0 1028.2,2323.0 1030.0,2337.0 1032.0,2342.5 1033.8,2345.0 1035.8,2338.8 1038.8,2339.5 1041.2,2343.8 1044.2,2348.2 1047.0,2348.0 1049.5,2344.2 1052.0,2342.5 1054.5,2337.5 1057.0,2333.8 1058.0,2320.0 1059.2,2295.0 1060.5,2270.0 1061.8,2252.5 1062.5,2245.8 1063.8,2270.0 1065.0,2295.0 1066.5,2320.0 1068.0,2340.0 1070.0,2348.8 1072.5,2353.8 1075.0,2347.5 1077.5,2338.0 1080.0,2340.0 1083.2,2348.2 1085.0,2335.0 1086.2,2327.5 1089.0,2324.2 1090.5,2335.0 1092.0,2342.0 1094.5,2338.0 1096.8,2335.5 1098.8,2346.2 1100.8,2337.5 1102.0,2325.0 1103.2,2305.0 1104.5,2293.8 1107.0,2298.8 1108.2,2315.0 1109.5,2335.0 1110.8,2347.5 1112.5,2354.5 1115.0,2348.8 1117.0,2349.5 1120.0,2348.0 1122.5,2347.5 1125.0,2340.0 1126.2,2330.0 1127.5,2312.5 1128.5,2300.0 1130.8,2291.8 1133.0,2295.0 1135.0,2310.0 1137.0,2327.5 1138.8,2342.5 1140.5,2348.0 1143.0,2348.5 1146.2,2346.2 1148.8,2343.2 1151.2,2344.2 1153.8,2342.0 1156.2,2348.8 1158.8,2356.2 1161.8,2353.8 1164.5,2348.8 1166.2,2335.0 1167.5,2315.0 1168.5,2282.5 1169.5,2252.5 1170.5,2241.2 1172.0,2260.0 1173.2,2290.0 1174.5,2320.0 1176.0,2342.5 1178.0,2353.8 1180.5,2357.0 1183.8,2358.0 1186.2,2356.2 1188.2,2352.5 1190.8,2356.8 1193.8,2360.0 1196.2,2356.2 1198.0,2347.5 1199.5,2332.5 1200.8,2315.0 1201.8,2306.2 1204.5,2312.5 1205.8,2325.0 1207.5,2340.0 1209.5,2346.2 1212.0,2347.5 1215.0,2352.5 1217.5,2353.2 1220.0,2350.0 1222.5,2350.0 1225.0,2348.2 1227.5,2355.0 1230.5,2358.0 1233.2,2353.8 1235.8,2347.0 1238.8,2346.2 1241.8,2346.2 1244.5,2344.5 1246.2,2342.5 1248.8,2348.8 1251.2,2353.8 1253.8,2353.2 1256.2,2342.5 1258.0,2330.0 1260.0,2312.5 1261.5,2282.5 1263.2,2245.0 1265.0,2227.0 1266.5,2250.0 1268.0,2282.5 1270.0,2317.5 1271.8,2337.5 1273.2,2348.8 1274.2,2310.0 1275.5,2265.0 1277.0,2232.5 1278.0,2216.2 1279.2,2240.0 1280.5,2270.0 1281.8,2290.0 1283.0,2303.8 1284.5,2282.5 1286.0,2252.5 1288.0,2230.5 1289.5,2245.0 1291.0,2270.0 1292.5,2295.0 1294.2,2322.5 1296.2,2345.0 1298.8,2352.5 1301.2,2355.0 1303.8,2356.2 1306.2,2357.0 1308.8,2347.5 1310.5,2330.0 1312.0,2310.0 1313.8,2297.5 1314.8,2291.2 1316.2,2312.5 1318.0,2330.0 1320.0,2342.5 1322.5,2327.5 1325.0,2340.0 1327.0,2345.0 1328.8,2327.5 1330.5,2310.0 1333.2,2300.0 1335.0,2320.0 1337.0,2340.0 1338.2,2352.5 1340.0,2320.0 1341.5,2275.0 1342.8,2245.0 1343.5,2237.0 1345.0,2245.0 1346.5,2270.0 1348.0,2295.0 1349.5,2314.5 1351.2,2322.5 1353.0,2312.5 1354.0,2306.2 1356.2,2317.5 1358.0,2330.0 1360.0,2345.0 1362.0,2356.2 1364.5,2357.5 1366.2,2340.0 1368.0,2325.0 1370.0,2313.0 1371.8,2330.0 1373.2,2345.0 1375.0,2357.5 1377.5,2361.2 1380.0,2356.2 1383.0,2348.0 1385.8,2352.0 1387.5,2354.5 1389.5,2350.5 1392.0,2349.0 1395.5,2348.5 1397.0,2337.5 1398.2,2327.0 1400.0,2327.5 1402.0,2328.0 1403.2,2345.0 1406.2,2352.5 1410.0,2353.8 1413.8,2355.0 1417.0,2358.8 1420.0,2356.2 1421.2,2340.0 1422.5,2315.0 1424.0,2290.0 1425.5,2267.5 1428.0,2250.0 1430.0,2267.5 1432.5,2291.2 1436.2,2288.8 1438.0,2265.0 1439.2,2225.0 1440.8,2182.5 1443.0,2202.5 1444.5,2230.0 1445.8,2261.2 1447.5,2261.2 1448.8,2245.0 1450.0,2222.5 1451.5,2204.5 1453.0,2225.0 1454.5,2250.0 1456.2,2277.5 1458.0,2260.0 1459.5,2255.0 1462.0,2253.8 1463.2,2237.5 1464.5,2223.8 1467.0,2235.0 1468.2,2260.0 1470.0,2295.0 1471.5,2322.5 1473.0,2337.0 1475.5,2335.0 1477.5,2322.5 1479.5,2310.0 1481.5,2305.0 1484.0,2303.8 1486.0,2333.8 1487.5,2305.0 1489.0,2280.0 1490.5,2260.5 1492.5,2275.0 1494.2,2297.5 1495.8,2322.5 1497.5,2342.5 1499.2,2355.0 1501.8,2354.5 1503.8,2335.0 1505.5,2315.0 1507.5,2297.5 1509.2,2287.5 1510.8,2305.0 1512.5,2330.0 1514.2,2352.5 1516.2,2360.0 1518.8,2363.0 1522.0,2364.0 1526.2,2363.0 1531.2,2364.0 1535.0,2362.0 1538.8,2360.0 1542.5,2360.5 1547.5,2361.8 1552.5,2361.5 1557.5,2360.8 1562.5,2361.2 1567.0,2362.0 1569.5,2359.5 1572.0,2357.5 1575.0,2359.0 1578.0,2362.0 1581.2,2363.2 1585.0,2362.5 1588.8,2359.5 1592.0,2358.2 1595.8,2355.8 1598.8,2357.0 1602.0,2359.0 1606.2,2358.2 1608.8,2355.0 1612.0,2351.8 1614.5,2355.5 1617.0,2359.2 1621.2,2359.5 1626.2,2359.5 1632.5,2360.5 1637.5,2361.2 1645.0,2361.0 1652.5,2361.5 1660.0,2361.0 1665.0,2359.5 1669.5,2357.0 1673.8,2358.5 1677.5,2358.0 1682.5,2357.5 1686.2,2356.0 1690.0,2355.0 1693.8,2352.5 1697.5,2350.0 1701.2,2350.5 1705.0,2353.2 1710.0,2355.8 1715.0,2357.5 1722.5,2358.2 1730.0,2358.0 1735.0,2357.0 1745.0,2357.0 1755.0,2357.5 1765.0,2357.0 1775.0,2356.8 1781.2,2357.2 1787.5,2356.5 1793.8,2356.0 1795.5,2347.5 1797.0,2340.0 1798.5,2336.2 1800.8,2341.2 1803.0,2350.0 1806.2,2350.0 1808.0,2342.5 1809.5,2337.5 1811.2,2335.0 1813.2,2341.2 1815.0,2332.5 1817.0,2325.0 1819.5,2317.0 1821.5,2327.5 1823.5,2342.5 1825.5,2350.0 1828.0,2353.2 1831.2,2353.8 1835.0,2353.0 1838.8,2353.5 1842.5,2353.2 1845.0,2354.2 1848.0,2353.0 1850.0,2347.5 1853.2,2344.5 1856.2,2348.2 1859.5,2351.2 1862.5,2350.0 1866.2,2346.2 1870.0,2344.5 1873.8,2343.8 1876.2,2344.5 1879.5,2347.5 1882.0,2345.8 1883.2,2335.0 1884.5,2327.5 1888.2,2326.5 1890.0,2335.0 1892.5,2342.5 1895.0,2346.2 1898.8,2347.5 1900.8,2340.0 1903.2,2334.5 1905.5,2338.8 1908.0,2345.0 1911.2,2347.5 1916.2,2350.0 1920.0,2347.5 1922.5,2341.2 1924.5,2334.5 1927.0,2340.0 1929.5,2347.5 1933.8,2347.8 1937.5,2348.8 1941.2,2348.8 1945.5,2348.2 1948.0,2346.2 1950.0,2340.0 1951.2,2330.0 1952.0,2305.0 1953.0,2267.5 1954.0,2217.5 1955.0,2167.5 1956.0,2125.0 1957.5,2107.5 1959.0,2100.0 1960.0,2117.5 1961.0,2155.0 1962.0,2205.0 1963.0,2250.0 1964.2,2287.5 1965.5,2317.5 1966.8,2333.8 1969.5,2340.0 1972.0,2333.0 1974.5,2337.5 1977.0,2340.8 1980.5,2340.0 1983.8,2343.8 1987.5,2346.8 1992.5,2347.5 1998.0,2348.2 2002.5,2346.2 2007.5,2345.0 2011.2,2343.8 2014.5,2345.8 2017.0,2347.5 2019.5,2344.5 2022.0,2341.8 2025.0,2343.8 2028.0,2347.5 2032.5,2347.5 2035.0,2342.0 2038.0,2338.8 2040.5,2343.0 2043.8,2345.8 2047.5,2346.2 2051.2,2346.2 2054.5,2347.8 2057.5,2345.0 2061.2,2339.5 2063.8,2342.0 2067.0,2343.8 2072.0,2343.8 2074.5,2337.5 2077.5,2338.2 2080.5,2342.0 2084.5,2344.5 2089.5,2343.2 2093.8,2345.0 2097.5,2346.2 2100.8,2346.2 2103.0,2335.0 2105.8,2326.2 2108.8,2330.0 2113.2,2335.0 2116.2,2332.0 2119.5,2328.8 2122.5,2333.2 2125.8,2336.8 2128.8,2341.2 2132.5,2344.2 2135.8,2342.0 2138.2,2339.5 2140.8,2339.2 2143.2,2342.5 2145.8,2344.5 2150.8,2345.0 2153.0,2335.0 2154.5,2320.0 2156.0,2308.8 2158.5,2303.2 2160.0,2312.5 2161.2,2321.2 2163.8,2318.8 2166.8,2315.0 2168.5,2327.5 2170.0,2335.0 2171.5,2340.8 2174.5,2340.5 2177.5,2338.2 2180.5,2340.0 2183.8,2342.5 2186.8,2341.8 2189.2,2335.0 2191.8,2327.5 2193.8,2323.8 2195.5,2321.2 2197.5,2326.2 2199.5,2332.5 2201.2,2336.2 2203.2,2338.0 2205.8,2333.8 2208.8,2334.5 2212.0,2336.8 2215.5,2335.5 2218.0,2331.2 2220.0,2328.0 2222.0,2325.5 2224.2,2332.5 2226.8,2338.8 2229.0,2338.2 2231.2,2334.2 2233.2,2333.0 2235.0,2330.5 2237.0,2333.8 2239.5,2331.8 2241.0,2315.0 2242.5,2292.5 2244.0,2277.5 2245.8,2268.8 2247.5,2285.0 2249.2,2302.5 2250.8,2313.8 2252.5,2292.5 2254.0,2272.5 2255.5,2260.0 2258.2,2273.8 2259.5,2292.5 2261.2,2310.0 2263.0,2321.2 2265.0,2325.5 2268.0,2329.2 2271.2,2334.5 2273.8,2335.5 2275.5,2326.2 2277.0,2312.5 2278.5,2297.5 2279.8,2293.2 2282.2,2296.2 2283.8,2310.0 2285.5,2323.8 2287.5,2332.5 2290.0,2335.0 2293.2,2336.8 2296.2,2335.5 2298.2,2334.5 2301.2,2336.8 2304.5,2338.8 2308.8,2338.0 2312.5,2335.0 2315.5,2334.5 2318.8,2335.5 2320.5,2327.5 2322.5,2320.0 2324.0,2316.8 2326.2,2322.5 2328.8,2328.8 2331.2,2333.8 2334.5,2336.2 2338.0,2336.8 2341.2,2335.5 2345.0,2332.5 2348.8,2332.0 2352.0,2331.2 2355.0,2333.0 2358.0,2334.5 2360.8,2332.5 2362.5,2322.5 2364.5,2312.5 2366.0,2307.5 2368.0,2316.2 2370.0,2326.2 2372.5,2332.5 2376.2,2335.8 2380.0,2334.5 2383.8,2333.8 2387.5,2333.8 2391.2,2332.0 2393.0,2328.8 2395.0,2322.5 2397.0,2317.5 2398.2,2315.8 2401.2,2318.8 2403.8,2322.5 2406.2,2325.0 2408.8,2330.8 2412.0,2334.2 2415.0,2334.5 2418.8,2333.2 2423.8,2333.5 2427.5,2333.0 2430.0,2332.5 2431.8,2325.0 2433.2,2310.0 2434.5,2303.0 2437.0,2301.2 2438.8,2312.5 2440.5,2322.5 2442.5,2330.0 2445.8,2331.2 2448.2,2327.5 2450.8,2322.5 2453.2,2318.8 2455.8,2319.5 2458.0,2315.0 2459.2,2307.5 2460.5,2300.5 2463.8,2299.2 2465.5,2307.5 2467.5,2317.5 2470.0,2327.0 2473.0,2332.0 2476.2,2332.5 2479.5,2329.5 2482.5,2327.0 2485.0,2325.8 2488.8,2327.5 2493.8,2328.2 2500.0,2328.8 2505.0,2328.0 2508.8,2326.2 2512.5,2325.0 2515.0,2326.2 2518.0,2329.2 2520.8,2328.8 2523.8,2325.0 2527.0,2322.5 2529.0,2315.5 2532.0,2315.0 2533.8,2320.0 2536.2,2325.0 2539.2,2327.5 2542.5,2326.8 2546.2,2326.2 2549.2,2325.8 2551.2,2321.2 2553.0,2305.0 2554.5,2287.5 2556.0,2272.5 2558.0,2262.0 2560.0,2272.5 2562.0,2287.5 2564.2,2305.0 2566.2,2316.2 2568.8,2321.8 2573.2,2323.2 2577.5,2321.2 2581.2,2320.0 2585.0,2318.2 2588.8,2316.8 2591.2,2315.8 2593.8,2308.8 2595.5,2303.8 2597.2,2300.8 2599.5,2306.2 2602.0,2312.5 2605.0,2317.0 2608.8,2319.2 2612.5,2320.0 2616.2,2319.0 2620.0,2316.8 2625.0,2315.8 2630.0,2315.5 2635.0,2314.2 2640.0,2313.0 2643.8,2311.8 2646.2,2308.8 2648.0,2300.0 2649.5,2280.0 2651.0,2260.0 2652.8,2247.5 2654.5,2257.5 2656.8,2275.0 2658.8,2290.0 2660.8,2302.5 2663.8,2303.8 2665.8,2302.5 2668.0,2290.0 2670.0,2278.8 2671.5,2274.5 2673.8,2279.5 2675.0,2286.2 2676.5,2292.5 2680.0,2291.8 2683.8,2290.8 2686.2,2292.5 2688.8,2297.5 2691.8,2299.5 2695.0,2298.0 2698.8,2297.5 2701.2,2298.0 2704.5,2294.2 2707.5,2293.0 2711.2,2294.0 2713.8,2290.5 2715.5,2282.5 2717.0,2275.0 2718.8,2269.5 2721.2,2273.8 2723.8,2280.0 2726.2,2284.5 2730.0,2285.8 2733.8,2287.5 2737.5,2290.0 2741.2,2293.8 2744.5,2296.8 2748.2,2297.5 2751.2,2300.5 2753.8,2304.5 2756.2,2307.5 2759.2,2307.0 2761.2,2305.5 2763.8,2307.5 2767.5,2310.5 2771.2,2314.2 2775.0,2318.2 2778.0,2320.8 2781.2,2322.5"/>
</g>
</svg>
</body></html>
